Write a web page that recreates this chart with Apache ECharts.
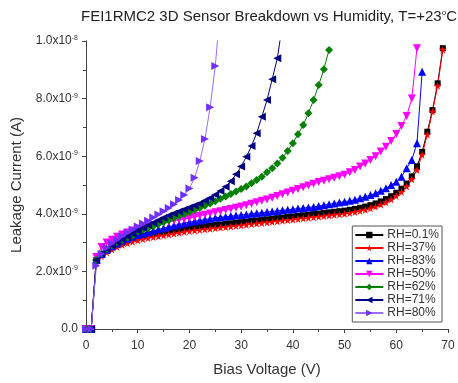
<!DOCTYPE html>
<html>
<head>
<meta charset="UTF-8">
<title>FEI1RMC2 breakdown</title>
<script src="https://cdn.jsdelivr.net/npm/echarts@6/dist/echarts.min.js"></script>
<style>
  html, body { margin: 0; padding: 0; background: #fff; }
  #main { width: 458px; height: 383px; }
</style>
</head>
<body>
<div id="main"></div>
<script>
// bias voltage steps (V)
var volts = [0, 1, 2, 3, 4, 5, 6, 7, 8, 9, 10, 11, 12, 13, 14, 15, 16, 17, 18, 19,
  20, 21, 22, 23, 24, 25, 26, 27, 28, 29, 30, 31, 32, 33, 34, 35, 36, 37, 38, 39,
  40, 41, 42, 43, 44, 45, 46, 47, 48, 49, 50, 51, 52, 53, 54, 55, 56, 57, 58, 59,
  60, 61, 62, 63, 64, 65, 66, 67, 68, 69];

var legendNames = ['RH=0.1%', 'RH=37%', 'RH=83%', 'RH=50%', 'RH=62%', 'RH=71%', 'RH=80%'];

// leakage current in units of 1e-9 A
var rh01 = [0, 0, 2.4, 2.58, 2.72, 2.83, 2.92, 3.0, 3.07, 3.13, 3.18, 3.22, 3.26, 3.3, 3.33, 3.36, 3.39, 3.42, 3.45, 3.48,
  3.51, 3.53, 3.55, 3.57, 3.59, 3.61, 3.63, 3.65, 3.67, 3.69, 3.71, 3.73, 3.75, 3.77, 3.79, 3.81, 3.83, 3.85, 3.87, 3.89,
  3.91, 3.93, 3.95, 3.97, 3.99, 4.01, 4.03, 4.05, 4.07, 4.09, 4.11, 4.14, 4.17, 4.21, 4.25, 4.3, 4.36, 4.43, 4.51, 4.61,
  4.73, 4.87, 5.05, 5.3, 5.65, 6.15, 6.85, 7.6, 8.53, 9.75];
var rh37 = [0, 0, 2.35, 2.53, 2.66, 2.76, 2.85, 2.92, 2.98, 3.03, 3.08, 3.12, 3.16, 3.19, 3.22, 3.25, 3.28, 3.31, 3.34, 3.37,
  3.4, 3.42, 3.44, 3.46, 3.48, 3.5, 3.52, 3.54, 3.56, 3.58, 3.6, 3.62, 3.64, 3.66, 3.68, 3.7, 3.72, 3.74, 3.76, 3.78,
  3.8, 3.82, 3.84, 3.86, 3.88, 3.9, 3.92, 3.94, 3.96, 3.98, 4.0, 4.03, 4.06, 4.1, 4.14, 4.19, 4.25, 4.32, 4.4, 4.5,
  4.62, 4.76, 4.95, 5.2, 5.52, 6.05, 6.75, 7.55, 8.45, 9.7];
var rh83 = [0, 0, 2.4, 2.6, 2.75, 2.87, 2.97, 3.06, 3.13, 3.2, 3.26, 3.31, 3.36, 3.41, 3.46, 3.5, 3.55, 3.59, 3.63, 3.67,
  3.71, 3.74, 3.77, 3.8, 3.83, 3.86, 3.88, 3.9, 3.92, 3.94, 3.96, 3.98, 4.0, 4.02, 4.04, 4.06, 4.08, 4.1, 4.12, 4.14,
  4.16, 4.18, 4.2, 4.22, 4.24, 4.27, 4.3, 4.33, 4.36, 4.39, 4.42, 4.45, 4.49, 4.54, 4.59, 4.65, 4.71, 4.8, 4.89, 5.0,
  5.11, 5.29, 5.58, 5.87, 6.45, 8.93];
var rh50 = [0, 0, 2.5, 2.85, 3.0, 3.1, 3.2, 3.28, 3.35, 3.42, 3.48, 3.53, 3.57, 3.61, 3.65, 3.69, 3.73, 3.76, 3.79, 3.82,
  3.85, 3.89, 3.93, 3.97, 4.01, 4.05, 4.09, 4.13, 4.17, 4.21, 4.25, 4.3, 4.35, 4.4, 4.45, 4.5, 4.56, 4.62, 4.68, 4.74,
  4.8, 4.86, 4.92, 4.98, 5.04, 5.1, 5.15, 5.2, 5.25, 5.3, 5.36, 5.44, 5.52, 5.64, 5.75, 5.87, 6.0, 6.16, 6.33, 6.53,
  6.77, 7.05, 7.4, 8.0, 9.75];
var rh62 = [0, 0, 2.4, 2.62, 2.78, 2.9, 3.0, 3.09, 3.17, 3.24, 3.38, 3.44, 3.5, 3.57, 3.64, 3.71, 3.78, 3.85, 3.92, 3.99,
  4.06, 4.13, 4.2, 4.28, 4.36, 4.44, 4.52, 4.6, 4.69, 4.77, 4.86, 4.95, 5.06, 5.17, 5.29, 5.44, 5.58, 5.75, 5.95, 6.18,
  6.45, 6.76, 7.08, 7.49, 7.95, 8.47, 9.02, 9.69];
var rh71 = [0, 0, 2.4, 2.62, 2.78, 2.91, 3.02, 3.12, 3.21, 3.32, 3.42, 3.51, 3.6, 3.69, 3.78, 3.86, 3.94, 4.01, 4.08, 4.15,
  4.22, 4.29, 4.36, 4.45, 4.55, 4.66, 4.79, 4.94, 5.13, 5.37, 5.64, 5.98, 6.35, 6.8, 7.37, 7.95, 8.67, 9.4, 10.6];
var rh80 = [0, 0, 2.2, 2.6, 2.82, 2.97, 3.1, 3.22, 3.34, 3.45, 3.56, 3.66, 3.76, 3.87, 3.98, 4.09, 4.2, 4.33, 4.48, 4.65,
  4.88, 5.25, 5.83, 6.6, 7.7, 9.13, 11.2];

var starPath = 'path://M50,0 L61,35 L98,35 L68,57 L79,91 L50,70 L21,91 L32,57 L2,35 L39,35 Z';

function pairs(vals) {
    var out = [];
    for (var i = 0; i < vals.length; i++) {
        out.push([volts[i], vals[i]]);
    }
    return out;
}

function makeSeries(name, vals, color, lineColor, symbol, rotate, size) {
    return {
        name: name,
        type: 'line',
        data: pairs(vals),
        symbol: symbol,
        symbolRotate: rotate,
        symbolSize: size,
        clip: true,
        animation: false,
        itemStyle: { color: color },
        lineStyle: { color: lineColor, width: 1 }
    };
}

var myChart = echarts.init(document.getElementById('main'));

var axisCol = '#444';
var labelCol = '#333';

myChart.setOption({
    backgroundColor: '#fff',
    textStyle: { fontFamily: 'Liberation Sans, Arial, sans-serif' },
    title: {
        text: 'FEI1RMC2 3D Sensor Breakdown vs Humidity, T=+23{sup|o}C',
        left: 76,
        top: 4,
        textStyle: {
            fontSize: 15,
            fontWeight: 'normal',
            color: '#222',
            rich: { sup: { fontSize: 8, verticalAlign: 'top', padding: [0, 0, 7, 0], color: '#222' } }
        }
    },
    legend: {
        orient: 'vertical',
        right: 16,
        top: 226,
        data: legendNames,
        itemWidth: 28,
        itemHeight: 8,
        itemGap: 1,
        padding: [3, 3, 3, 2],
        borderColor: '#555',
        borderWidth: 1,
        backgroundColor: '#fff',
        textStyle: { fontSize: 12, color: labelCol, lineHeight: 12, padding: [0, 0, 0, -1] }
    },
    grid: { left: 86, right: 10, top: 41, bottom: 54 },
    xAxis: [{
        type: 'value',
        min: 0, max: 70, interval: 10,
        name: 'Bias Voltage (V)',
        nameLocation: 'middle',
        nameGap: 33,
        nameTextStyle: { fontSize: 15, color: labelCol },
        axisLine: { lineStyle: { color: axisCol } },
        axisTick: { inside: false, length: 4, lineStyle: { color: axisCol } },
        minorTick: { show: true, splitNumber: 2, length: 3, lineStyle: { color: axisCol } },
        axisLabel: { fontSize: 12, color: labelCol, margin: 11 },
        splitLine: { show: false }
    }, {
        type: 'value',
        position: 'top',
        min: 0, max: 70, interval: 10,
        axisLine: { show: true, lineStyle: { color: axisCol } },
        axisTick: { inside: true, length: 4, lineStyle: { color: axisCol } },
        minorTick: { show: true, splitNumber: 2, length: 3, lineStyle: { color: axisCol } },
        axisLabel: { show: false },
        splitLine: { show: false }
    }],
    yAxis: [{
        type: 'value',
        min: 0, max: 10, interval: 2,
        name: 'Leakage Current (A)',
        nameLocation: 'middle',
        nameGap: 62,
        nameTextStyle: { fontSize: 15, color: labelCol },
        axisLine: { show: true, lineStyle: { color: axisCol } },
        axisTick: { show: true, inside: false, length: 4, lineStyle: { color: axisCol } },
        minorTick: { show: true, splitNumber: 2, length: 3, lineStyle: { color: axisCol } },
        axisLabel: {
            fontSize: 12,
            color: labelCol,
            margin: 8,
            formatter: function (v) {
                if (v === 0) return '0.0';
                if (v === 10) return '1.0x10{sup|-8}';
                return v.toFixed(1) + 'x10{sup|-9}';
            },
            rich: { sup: { fontSize: 7, verticalAlign: 'top', padding: [0, 0, 6, 0], color: labelCol } }
        },
        splitLine: { show: false }
    }, {
        type: 'value',
        position: 'right',
        min: 0, max: 10, interval: 2,
        axisLine: { show: true, lineStyle: { color: axisCol } },
        axisTick: { show: true, inside: true, length: 4, lineStyle: { color: axisCol } },
        minorTick: { show: true, splitNumber: 2, length: 3, lineStyle: { color: axisCol } },
        axisLabel: { show: false },
        splitLine: { show: false }
    }],
    series: [
        makeSeries(legendNames[0], rh01, '#000000', '#000000', 'rect', 0, 6),
        makeSeries(legendNames[1], rh37, '#ff0000', '#ff0000', starPath, 0, 8),
        makeSeries(legendNames[2], rh83, '#0000ff', '#0000ff', 'triangle', 0, 8),
        makeSeries(legendNames[3], rh50, '#ff00ff', '#ff00ff', 'triangle', 180, 8),
        makeSeries(legendNames[4], rh62, '#008000', '#008000', 'diamond', 0, 8),
        makeSeries(legendNames[5], rh71, '#000080', '#000080', 'triangle', 90, 8),
        makeSeries(legendNames[6], rh80, '#7030ff', '#9a6cff', 'triangle', -90, 8)
    ]
});
</script>
</body>
</html>
